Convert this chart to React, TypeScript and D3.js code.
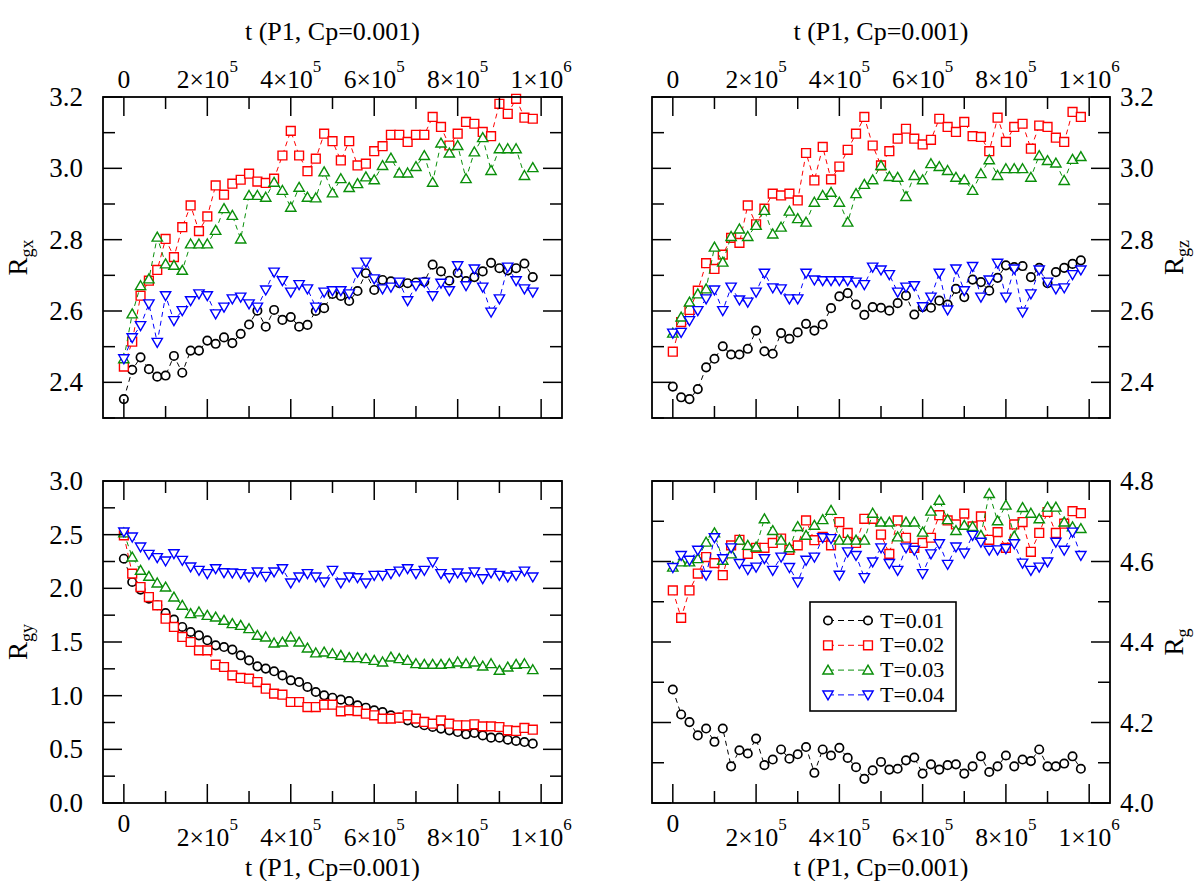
import React from "react";
import * as d3 from "d3";

const W = 1204;
const H = 881;
const FONT = "'Liberation Serif', 'Times New Roman', serif";

// sampling times (every 2x10^4 steps)
const tSteps = d3.range(0, 1000000, 20000);

const seriesNames = ["T=0.01", "T=0.02", "T=0.03", "T=0.04"];
const seriesColors = ["#000000", "#ff0000", "#0a8f0a", "#0000ff"];
const seriesShapes = ["circle", "square", "up", "down"];

// R_gx
const rgx001 = [2.353, 2.435, 2.47, 2.437, 2.416, 2.419, 2.474, 2.427, 2.489, 2.489, 2.517, 2.508, 2.526, 2.51, 2.536, 2.562, 2.601, 2.556, 2.603, 2.575, 2.583, 2.556, 2.561, 2.6, 2.608, 2.648, 2.642, 2.628, 2.656, 2.706, 2.659, 2.687, 2.683, 2.678, 2.678, 2.68, 2.682, 2.73, 2.711, 2.685, 2.707, 2.684, 2.695, 2.711, 2.735, 2.72, 2.714, 2.72, 2.733, 2.695];
const rgx002 = [2.444, 2.514, 2.643, 2.685, 2.715, 2.802, 2.751, 2.835, 2.896, 2.824, 2.865, 2.952, 2.926, 2.957, 2.968, 2.985, 2.963, 2.959, 2.971, 3.036, 3.105, 3.036, 2.992, 3.027, 3.097, 3.076, 3.022, 3.076, 3.008, 3.013, 3.048, 3.062, 3.094, 3.094, 3.074, 3.094, 3.094, 3.144, 3.116, 3.064, 3.097, 3.13, 3.125, 3.102, 3.09, 3.181, 3.153, 3.195, 3.142, 3.139];
const rgx003 = [2.466, 2.592, 2.671, 2.69, 2.807, 2.732, 2.728, 2.714, 2.788, 2.788, 2.788, 2.826, 2.887, 2.868, 2.802, 2.924, 2.924, 2.919, 2.961, 2.938, 2.891, 2.947, 2.919, 2.917, 2.99, 2.931, 2.971, 2.946, 2.957, 2.976, 2.968, 3.008, 3.029, 2.987, 2.987, 3.005, 3.036, 2.961, 3.071, 3.043, 3.064, 2.971, 3.046, 3.086, 2.994, 3.055, 3.055, 3.055, 2.98, 3.002];
const rgx004 = [2.466, 2.525, 2.559, 2.62, 2.512, 2.643, 2.573, 2.601, 2.629, 2.648, 2.643, 2.592, 2.611, 2.634, 2.639, 2.62, 2.611, 2.659, 2.709, 2.685, 2.653, 2.674, 2.662, 2.611, 2.653, 2.657, 2.657, 2.648, 2.709, 2.737, 2.69, 2.662, 2.667, 2.681, 2.629, 2.671, 2.681, 2.643, 2.678, 2.657, 2.727, 2.671, 2.718, 2.667, 2.597, 2.634, 2.723, 2.685, 2.662, 2.653];

// R_gz
const rgz001 = [2.388, 2.358, 2.353, 2.381, 2.442, 2.466, 2.501, 2.478, 2.478, 2.494, 2.545, 2.487, 2.48, 2.538, 2.522, 2.54, 2.564, 2.545, 2.562, 2.608, 2.641, 2.65, 2.618, 2.589, 2.611, 2.609, 2.601, 2.622, 2.643, 2.59, 2.611, 2.609, 2.629, 2.618, 2.662, 2.639, 2.688, 2.681, 2.657, 2.693, 2.728, 2.723, 2.726, 2.695, 2.721, 2.678, 2.709, 2.721, 2.732, 2.742];
const rgz002 = [2.486, 2.569, 2.603, 2.657, 2.734, 2.718, 2.758, 2.805, 2.791, 2.896, 2.843, 2.887, 2.929, 2.924, 2.929, 2.91, 3.043, 2.966, 3.06, 2.969, 3.005, 3.052, 3.097, 3.144, 3.064, 3.008, 3.048, 3.083, 3.111, 3.083, 3.067, 3.08, 3.139, 3.116, 3.102, 3.13, 3.09, 3.088, 3.048, 3.142, 3.074, 3.116, 3.125, 3.055, 3.12, 3.116, 3.086, 3.074, 3.158, 3.144];
const rgz003 = [2.538, 2.583, 2.625, 2.648, 2.662, 2.779, 2.737, 2.809, 2.83, 2.809, 2.84, 2.882, 2.816, 2.835, 2.88, 2.859, 2.849, 2.905, 2.924, 2.933, 2.905, 2.849, 2.929, 2.955, 2.968, 3.008, 2.977, 2.975, 2.921, 2.98, 2.968, 3.013, 3.005, 2.994, 2.975, 2.968, 2.938, 2.985, 3.024, 2.98, 2.999, 2.999, 2.999, 2.975, 3.036, 3.022, 3.015, 2.966, 3.025, 3.033];
const rgz004 = [2.538, 2.54, 2.573, 2.601, 2.634, 2.659, 2.601, 2.667, 2.631, 2.625, 2.653, 2.706, 2.665, 2.662, 2.634, 2.634, 2.706, 2.687, 2.685, 2.685, 2.685, 2.685, 2.681, 2.674, 2.723, 2.715, 2.702, 2.653, 2.667, 2.671, 2.612, 2.639, 2.706, 2.603, 2.718, 2.657, 2.725, 2.639, 2.687, 2.734, 2.639, 2.718, 2.597, 2.648, 2.715, 2.681, 2.662, 2.665, 2.702, 2.715];

// R_gy
const rgy001 = [2.276, 2.059, 1.988, 1.904, 1.842, 1.77, 1.708, 1.64, 1.593, 1.562, 1.516, 1.469, 1.453, 1.429, 1.376, 1.329, 1.273, 1.252, 1.227, 1.189, 1.143, 1.127, 1.081, 1.034, 1.003, 0.981, 0.963, 0.95, 0.91, 0.888, 0.863, 0.848, 0.817, 0.795, 0.77, 0.745, 0.724, 0.708, 0.693, 0.677, 0.661, 0.64, 0.652, 0.63, 0.609, 0.609, 0.59, 0.578, 0.568, 0.553];
const rgy002 = [2.494, 2.137, 2.012, 1.919, 1.842, 1.717, 1.64, 1.547, 1.5, 1.422, 1.422, 1.289, 1.267, 1.189, 1.165, 1.158, 1.127, 1.065, 1.019, 1.009, 0.941, 0.941, 0.894, 0.894, 0.916, 0.916, 0.854, 0.863, 0.857, 0.832, 0.817, 0.786, 0.786, 0.795, 0.817, 0.786, 0.755, 0.739, 0.77, 0.739, 0.724, 0.724, 0.733, 0.714, 0.714, 0.708, 0.677, 0.671, 0.699, 0.683];
const rgy003 = [2.516, 2.292, 2.168, 2.112, 2.05, 2.012, 1.919, 1.842, 1.764, 1.78, 1.748, 1.733, 1.702, 1.671, 1.655, 1.624, 1.562, 1.547, 1.491, 1.5, 1.547, 1.5, 1.444, 1.398, 1.407, 1.391, 1.376, 1.354, 1.354, 1.345, 1.329, 1.314, 1.36, 1.345, 1.329, 1.298, 1.292, 1.292, 1.292, 1.298, 1.314, 1.298, 1.314, 1.276, 1.298, 1.236, 1.267, 1.292, 1.298, 1.242];
const rgy004 = [2.525, 2.478, 2.385, 2.317, 2.286, 2.255, 2.323, 2.261, 2.199, 2.168, 2.137, 2.183, 2.146, 2.143, 2.137, 2.106, 2.152, 2.112, 2.152, 2.183, 2.05, 2.106, 2.137, 2.106, 2.059, 2.168, 2.05, 2.106, 2.099, 2.05, 2.121, 2.121, 2.137, 2.161, 2.183, 2.137, 2.168, 2.245, 2.137, 2.099, 2.143, 2.106, 2.152, 2.09, 2.143, 2.121, 2.106, 2.121, 2.161, 2.106];

// R_g
const rg001 = [4.282, 4.22, 4.201, 4.168, 4.185, 4.152, 4.185, 4.091, 4.131, 4.123, 4.16, 4.094, 4.108, 4.133, 4.11, 4.121, 4.139, 4.075, 4.133, 4.118, 4.137, 4.112, 4.089, 4.06, 4.081, 4.102, 4.083, 4.085, 4.106, 4.113, 4.073, 4.096, 4.083, 4.094, 4.096, 4.073, 4.091, 4.116, 4.077, 4.091, 4.118, 4.091, 4.108, 4.104, 4.133, 4.091, 4.091, 4.098, 4.116, 4.085];
const rg002 = [4.528, 4.46, 4.528, 4.57, 4.611, 4.596, 4.566, 4.64, 4.654, 4.619, 4.634, 4.634, 4.646, 4.657, 4.629, 4.64, 4.702, 4.653, 4.661, 4.64, 4.698, 4.671, 4.646, 4.706, 4.706, 4.667, 4.619, 4.702, 4.659, 4.634, 4.646, 4.659, 4.715, 4.702, 4.692, 4.719, 4.687, 4.712, 4.654, 4.673, 4.634, 4.692, 4.698, 4.624, 4.671, 4.723, 4.671, 4.694, 4.725, 4.72];
const rg003 = [4.586, 4.599, 4.599, 4.607, 4.648, 4.671, 4.603, 4.619, 4.653, 4.64, 4.636, 4.706, 4.677, 4.653, 4.634, 4.687, 4.665, 4.69, 4.704, 4.727, 4.653, 4.653, 4.653, 4.653, 4.72, 4.698, 4.698, 4.661, 4.698, 4.698, 4.673, 4.725, 4.752, 4.704, 4.677, 4.69, 4.687, 4.665, 4.769, 4.701, 4.74, 4.663, 4.734, 4.72, 4.706, 4.735, 4.735, 4.698, 4.686, 4.682];
const rg004 = [4.585, 4.615, 4.603, 4.628, 4.566, 4.659, 4.607, 4.634, 4.595, 4.58, 4.586, 4.607, 4.578, 4.611, 4.585, 4.549, 4.603, 4.611, 4.659, 4.657, 4.566, 4.624, 4.615, 4.56, 4.599, 4.634, 4.595, 4.578, 4.634, 4.628, 4.57, 4.619, 4.644, 4.593, 4.636, 4.621, 4.665, 4.648, 4.628, 4.629, 4.632, 4.644, 4.596, 4.578, 4.586, 4.599, 4.648, 4.628, 4.673, 4.615];

// axis ticks
const xDomain = [-50000, 1050000];
const xMajor = [0, 200000, 400000, 600000, 800000, 1000000];
const xMinor = [100000, 300000, 500000, 700000, 900000];
const xMant = ["0", "2×10", "4×10", "6×10", "8×10", "1×10"];
const xExp = ["", "5", "5", "5", "5", "6"];
const xTitle = "t (P1, Cp=0.001)";

const topMajor = [2.4, 2.6, 2.8, 3.0, 3.2];
const topMinor = [2.3, 2.5, 2.7, 2.9, 3.1];
const rgyMajor = [0, 0.5, 1.0, 1.5, 2.0, 2.5, 3.0];
const rgyMinor = [0.25, 0.75, 1.25, 1.75, 2.25, 2.75];
const rgMajor = [4.0, 4.2, 4.4, 4.6, 4.8];
const rgMinor = [4.1, 4.3, 4.5, 4.7];

const MAJ = 19;
const MIN = 12;

function symbolPath(shape: string) {
  if (shape === "square") return d3.symbol(d3.symbolSquare, 78)();
  if (shape === "up" || shape === "down") return d3.symbol(d3.symbolTriangle, 46)();
  return "";
}

function Marker({ shape, x, y, color }: any) {
  if (shape === "circle") {
    return <circle cx={x} cy={y} r={4.2} fill="white" stroke={color} strokeWidth={1.7} />;
  }
  const rot = shape === "down" ? 180 : 0;
  const dy = shape === "up" ? 1 : shape === "down" ? -1 : 0;
  return (
    <path
      d={symbolPath(shape) as string}
      transform={`translate(${x},${y + dy}) rotate(${rot})`}
      fill="white"
      stroke={color}
      strokeWidth={1.4}
    />
  );
}

function Panel({ box, yDomain, yMajor, yMinor, ySide, xSide, sub, series, legend }: any) {
  const x = d3.scaleLinear().domain(xDomain).range([box.left, box.right]);
  const y = d3.scaleLinear().domain(yDomain).range([box.bottom, box.top]);
  const line = d3
    .line<number>()
    .x((_, i) => x(tSteps[i]))
    .y((d) => y(d));
  const fmt = d3.format(".1f");
  const midY = (box.top + box.bottom) / 2;
  const midX = (box.left + box.right) / 2;
  const yTitleX = ySide === "left" ? 27 : 1183;

  return (
    <g>
      {/* series */}
      {series.map((vals: number[], si: number) => (
        <g key={si}>
          <path d={line(vals) as string} fill="none" stroke={seriesColors[si]} strokeWidth={1} strokeDasharray="5,4" />
          {vals.map((v, i) => (
            <Marker key={i} shape={seriesShapes[si]} x={x(tSteps[i])} y={y(v)} color={seriesColors[si]} />
          ))}
        </g>
      ))}

      {/* frame */}
      <rect x={box.left} y={box.top} width={box.right - box.left} height={box.bottom - box.top} fill="none" stroke="#000" strokeWidth={1.8} />

      {/* x ticks */}
      {xMajor.map((v) => (
        <g key={"xM" + v} stroke="#000" strokeWidth={1.5}>
          <line x1={x(v)} x2={x(v)} y1={box.top} y2={box.top + MAJ} />
          <line x1={x(v)} x2={x(v)} y1={box.bottom} y2={box.bottom - MAJ} />
        </g>
      ))}
      {xMinor.map((v) => (
        <g key={"xm" + v} stroke="#000" strokeWidth={1.5}>
          <line x1={x(v)} x2={x(v)} y1={box.top} y2={box.top + MIN} />
          <line x1={x(v)} x2={x(v)} y1={box.bottom} y2={box.bottom - MIN} />
        </g>
      ))}
      {/* y ticks */}
      {yMajor.map((v: number) => (
        <g key={"yM" + v} stroke="#000" strokeWidth={1.5}>
          <line x1={box.left} x2={box.left + MAJ} y1={y(v)} y2={y(v)} />
          <line x1={box.right} x2={box.right - MAJ} y1={y(v)} y2={y(v)} />
        </g>
      ))}
      {yMinor.map((v: number) => (
        <g key={"ym" + v} stroke="#000" strokeWidth={1.5}>
          <line x1={box.left} x2={box.left + MIN} y1={y(v)} y2={y(v)} />
          <line x1={box.right} x2={box.right - MIN} y1={y(v)} y2={y(v)} />
        </g>
      ))}

      {/* x tick labels */}
      {xMajor.map((v, i) => {
        const base = xSide === "top" ? box.top - 9 : box.bottom + (xExp[i] ? 43 : 29);
        return (
          <text key={"xl" + v} x={x(v)} y={base} textAnchor="middle" fontFamily={FONT} fontSize={25.5}>
            {xMant[i]}
            {xExp[i] ? (
              <tspan dy={-16} fontSize={17}>
                {xExp[i]}
              </tspan>
            ) : null}
          </text>
        );
      })}
      <text
        x={midX}
        y={xSide === "top" ? 40 : box.bottom + 73}
        textAnchor="middle"
        fontFamily={FONT}
        fontSize={26}
      >
        {xTitle}
      </text>

      {/* y tick labels */}
      {yMajor.map((v: number) => (
        <text
          key={"yl" + v}
          x={ySide === "left" ? box.left - 20 : box.right + 10}
          y={y(v) + 9}
          textAnchor={ySide === "left" ? "end" : "start"}
          fontFamily={FONT}
          fontSize={27}
        >
          {fmt(v)}
        </text>
      ))}
      <text transform={`translate(${yTitleX},${midY}) rotate(-90)`} textAnchor="middle" fontFamily={FONT} fontSize={27}>
        R
        <tspan dy={6} fontSize={18}>
          {sub}
        </tspan>
      </text>

      {legend ? (
        <g>
          <rect x={810} y={602} width={146} height={109} fill="white" stroke="#000" strokeWidth={1.6} />
          {seriesNames.map((name, si) => {
            const ly = 620.5 + si * 24.8;
            return (
              <g key={name}>
                <line x1={828} x2={868} y1={ly} y2={ly} stroke={seriesColors[si]} strokeWidth={1} strokeDasharray="6,4" />
                <Marker shape={seriesShapes[si]} x={828} y={ly} color={seriesColors[si]} />
                <Marker shape={seriesShapes[si]} x={868} y={ly} color={seriesColors[si]} />
                <text x={880} y={ly + 7} fontFamily={FONT} fontSize={22}>
                  {name}
                </text>
              </g>
            );
          })}
        </g>
      ) : null}
    </g>
  );
}

export default function App() {
  return (
    <svg width={W} height={H} style={{ position: "absolute", left: 0, top: 0, background: "white" }}>
      <rect width={W} height={H} fill="white" />
      <Panel
        box={{ left: 103, right: 562, top: 97, bottom: 418 }}
        yDomain={[2.3, 3.2]}
        yMajor={topMajor}
        yMinor={topMinor}
        ySide="left"
        xSide="top"
        sub="gx"
        series={[rgx001, rgx002, rgx003, rgx004]}
      />
      <Panel
        box={{ left: 652, right: 1110, top: 97, bottom: 418 }}
        yDomain={[2.3, 3.2]}
        yMajor={topMajor}
        yMinor={topMinor}
        ySide="right"
        xSide="top"
        sub="gz"
        series={[rgz001, rgz002, rgz003, rgz004]}
      />
      <Panel
        box={{ left: 103, right: 562, top: 481, bottom: 803 }}
        yDomain={[0, 3]}
        yMajor={rgyMajor}
        yMinor={rgyMinor}
        ySide="left"
        xSide="bottom"
        sub="gy"
        series={[rgy001, rgy002, rgy003, rgy004]}
      />
      <Panel
        box={{ left: 652, right: 1110, top: 481, bottom: 803 }}
        yDomain={[4.0, 4.8]}
        yMajor={rgMajor}
        yMinor={rgMinor}
        ySide="right"
        xSide="bottom"
        sub="g"
        series={[rg001, rg002, rg003, rg004]}
        legend
      />
    </svg>
  );
}
